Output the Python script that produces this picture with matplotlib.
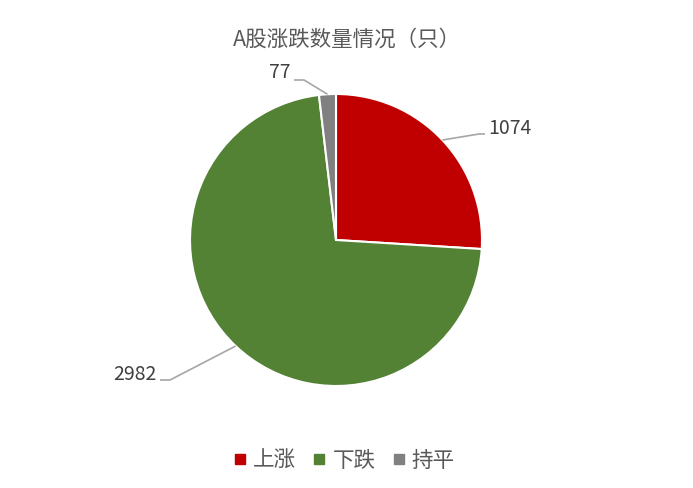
import numpy as np
import matplotlib
matplotlib.use("Agg")
import matplotlib.pyplot as plt
from matplotlib.lines import Line2D

plt.rcParams['font.family'] = ['Noto Sans CJK SC', 'DejaVu Sans']

title = "A股涨跌数量情况（只）"
categories = ["上涨", "下跌", "持平"]
values = [1074, 2982, 77]
colors = ["#C00000", "#548235", "#808080"]

W, H = 693, 488
fig = plt.figure(figsize=(W / 100, H / 100), dpi=100)
ax = fig.add_axes([0, 0, 1, 1])

cx, cy, r = 336, H - 240, 146
wedges, _ = ax.pie(values, colors=colors, startangle=90, counterclock=False,
                   center=(cx, cy), radius=r, frame=True,
                   wedgeprops=dict(edgecolor="white", linewidth=1.5))
ax.set_xlim(0, W)
ax.set_ylim(0, H)
ax.set_aspect("equal")
ax.axis("off")

# label positions (pixel coords, y from top) and elbow points
label_pos = [(488, 128, "left"), (157, 374, "right"), (291, 72, "right")]
elbows = [(479, 134), (170, 380), (304, 80)]
ends = [(485, 134), (160, 380), (294, 80)]
for w, (lx, ly, ha), (ex, ey), (tx, ty), v in zip(wedges, label_pos, elbows, ends, values):
    ang = np.deg2rad((w.theta1 + w.theta2) / 2)
    px = cx + r * np.cos(ang)
    py = cy + r * np.sin(ang)
    ax.plot([px, ex, tx], [py, H - ey, H - ty], color="#A6A6A6", lw=1.2,
            solid_capstyle="butt")
    ax.text(lx, H - ly, str(v), ha=ha, va="center", fontsize=14, color="#404040")

ax.text(W / 2, H - 40, title, ha="center", va="center", fontsize=15.5, color="#595959")

handles = [Line2D([0], [0], marker="s", linestyle="", markersize=7,
                  markerfacecolor=c, markeredgecolor=c) for c in colors]
fig.legend(handles, categories, loc="center", bbox_to_anchor=(342 / W, 1 - 461 / H),
           ncol=3, frameon=False, fontsize=15.5, handletextpad=0.1, columnspacing=0.58,
           handlelength=1.0, labelcolor="#595959")

fig.savefig("out.png", dpi=100, facecolor="white")
